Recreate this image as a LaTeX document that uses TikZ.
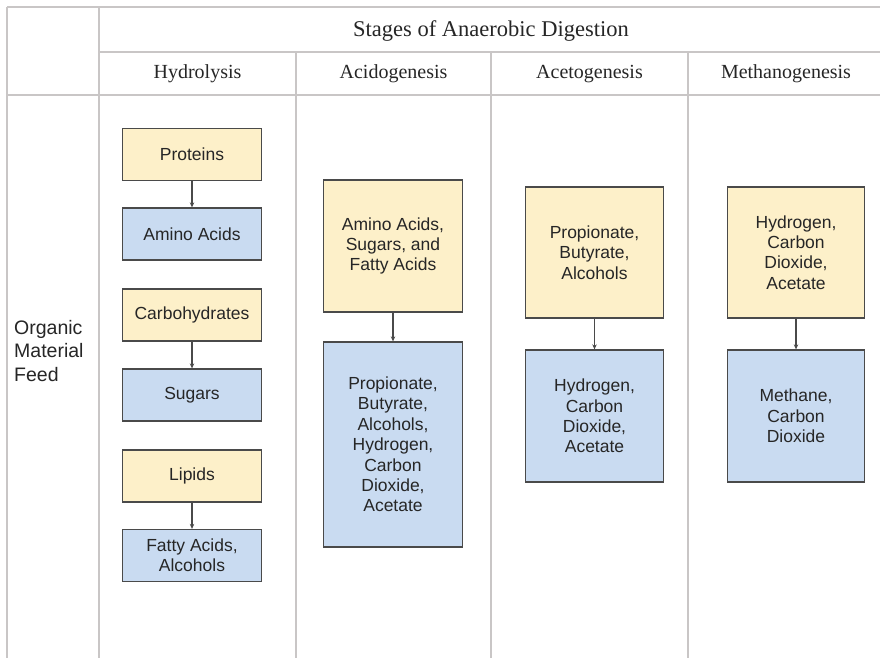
\documentclass[tikz,border=0pt]{standalone}
\usepackage{fontspec}
\setmainfont{Liberation Serif}
\newfontfamily\boxfont{Liberation Sans}
\usetikzlibrary{arrows.meta}
\definecolor{gridline}{HTML}{C9C6C6}
\definecolor{yelfill}{HTML}{FDF0C9}
\definecolor{bluefill}{HTML}{C9DBF1}
\definecolor{boxline}{HTML}{4A4A4A}
\definecolor{txt}{HTML}{262626}
\tikzset{
  grid line/.style={draw=gridline, line width=1.6pt},
  hdr/.style={font=\fontsize{20}{24}\selectfont, text=txt, inner sep=0pt},
  basebox/.style={draw=boxline, line width=1.3pt, inner sep=2pt, align=center,
    font=\boxfont\fontsize{17.5}{20.4}\selectfont, text=txt},
  ybox/.style={basebox, fill=yelfill},
  bbox/.style={basebox, fill=bluefill},
  flow/.style={draw=boxline, line width=1.1pt, -{Stealth[length=5pt,width=4.5pt]}},
}
\begin{document}
\begin{tikzpicture}[x=1pt,y=-1pt]
\useasboundingbox (0,0) rectangle (880,658);
\fill[white] (0,0) rectangle (880,658);
% table grid
\draw[grid line] (7,7) -- (880,7);
\draw[grid line] (7,7) -- (7,658);
\draw[grid line] (99,7) -- (99,658);
\draw[grid line] (99,52) -- (880,52);
\draw[grid line] (7,95) -- (880,95);
\draw[grid line] (296,52) -- (296,658);
\draw[grid line] (491,52) -- (491,658);
\draw[grid line] (688,52) -- (688,658);
% headers
\node[hdr, font=\fontsize{22.5}{26}\selectfont] (title) at (491,31) {Stages of Anaerobic Digestion};
\node[hdr] (h1) at (197.5,74) {Hydrolysis};
\node[hdr] (h2) at (393.5,74) {Acidogenesis};
\node[hdr] (h3) at (589.5,74) {Acetogenesis};
\node[hdr] (h4) at (786,74) {Methanogenesis};
\node[align=left, anchor=west, inner sep=0pt, text=txt,
  font=\boxfont\fontsize{19.5}{23.5}\selectfont] (feed) at (14,351) {Organic\\Material\\Feed};
% hydrolysis
\node[ybox, minimum width=139pt, minimum height=52pt] (prot) at (192,154.5) {Proteins};
\node[bbox, minimum width=139pt, minimum height=52pt] (amino) at (192,234) {Amino Acids};
\node[ybox, minimum width=139pt, minimum height=52pt] (carb) at (192,315) {Carbohydrates};
\node[bbox, minimum width=139pt, minimum height=52pt] (sug) at (192,395) {Sugars};
\node[ybox, minimum width=139pt, minimum height=52pt] (lip) at (192,476) {Lipids};
\node[bbox, minimum width=139pt, minimum height=52pt] (fat) at (192,555.5) {Fatty Acids,\\Alcohols};
\draw[flow] (prot) -- (amino);
\draw[flow] (carb) -- (sug);
\draw[flow] (lip) -- (fat);
% acidogenesis
\node[ybox, minimum width=139pt, minimum height=132pt] (acin) at (393,246) {Amino Acids,\\Sugars, and\\Fatty Acids};
\node[bbox, minimum width=139pt, minimum height=205pt] (acout) at (393,444.5) {Propionate,\\Butyrate,\\Alcohols,\\Hydrogen,\\Carbon\\Dioxide,\\Acetate};
\draw[flow] (acin) -- (acout);
% acetogenesis
\node[ybox, minimum width=138pt, minimum height=131pt] (atin) at (594.5,252.5) {Propionate,\\Butyrate,\\Alcohols};
\node[bbox, minimum width=138pt, minimum height=132pt] (atout) at (594.5,416) {Hydrogen,\\Carbon\\Dioxide,\\Acetate};
\draw[flow] (atin) -- (atout);
% methanogenesis
\node[ybox, minimum width=137pt, minimum height=131pt] (mein) at (796,252.5) {Hydrogen,\\Carbon\\Dioxide,\\Acetate};
\node[bbox, minimum width=137pt, minimum height=132pt] (meout) at (796,416) {Methane,\\Carbon\\Dioxide};
\draw[flow] (mein) -- (meout);
\end{tikzpicture}
\end{document}
